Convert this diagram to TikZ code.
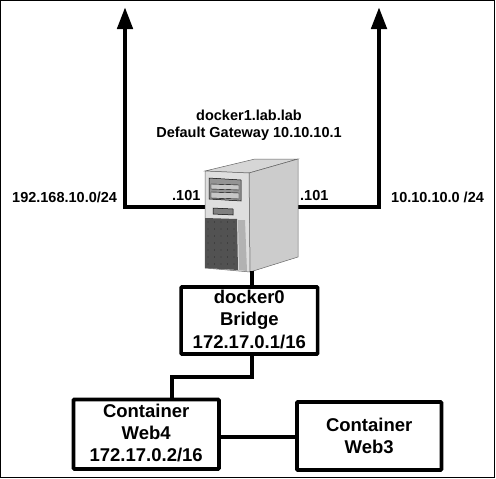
\documentclass[tikz,border=0pt]{standalone}
\usepackage{fontspec}
\setmainfont{Liberation Sans}
\usetikzlibrary{arrows.meta}
\tikzset{
  netbox/.style={draw=black,fill=white,line width=3.6pt,rounded corners=0.8pt,align=center,font=\fontsize{18.5}{22.3}\selectfont\bfseries,inner sep=0pt},
  raised/.style={text depth=3pt},
  lbl/.style={font=\fontsize{14.5}{17}\selectfont\bfseries,align=center,inner sep=0pt},
  wire/.style={draw=black,line width=3.6pt},
  uplink/.style={draw=black,line width=4.6pt,-{Triangle[length=22pt,width=15pt]}},
  skin/.style={draw=black!60,line width=.5pt},
}
\begin{document}
\begin{tikzpicture}[x=1pt,y=-1pt]
\useasboundingbox (0,0) rectangle (496,479);
\fill[white] (0,0) rectangle (496,479);
\draw[line width=1.4pt] (0.7,478) -- (0.7,0.7) -- (494.3,0.7) -- (494.3,477.7) -- (0,477.7);
% server
\node[minimum width=93pt,minimum height=113pt,inner sep=0pt] (server) at (251.5,215.5) {};
\coordinate (upL) at (125,7);
\coordinate (upR) at (379,7);
\draw[uplink] (server.west |- 0,207) -| (upL);
\draw[uplink] (server.east |- 0,207) -| (upR);
\filldraw[skin,fill=black!16] (205,171) -- (255,159) -- (298,159) -- (249,173) -- cycle;
\filldraw[skin,fill=black!20] (249,173) -- (298,159) -- (298,257) -- (250,272) -- cycle;
\filldraw[skin,fill=black!13] (205,171) -- (249,173) -- (250,272) -- (205,268) -- cycle;
\fill[black!68] (205,218) -- (237,219) -- (238,270) -- (205,268) -- cycle;
\foreach \i in {0,...,4} \foreach \j in {0,...,6}
  \fill[black] ({208+\i*6.5},{222+\j*7}) circle (.45pt);
\fill[black!30] (238,220) -- (245,220) -- (247,271) -- (239,270) -- cycle;
\filldraw[draw=black,line width=.5pt,fill=black!42] (209,178) -- (241,180) -- (241,201) -- (209,199) -- cycle;
\filldraw[draw=black,line width=.4pt,fill=black!22] (211,184) -- (239,185) -- (239,190) -- (211,189) -- cycle;
\filldraw[draw=black,line width=.4pt,fill=black!22] (211,192) -- (239,193) -- (239,199) -- (211,198) -- cycle;
\filldraw[draw=black,line width=.5pt,fill=black!50] (213,208) -- (233,209) -- (233,215) -- (213,214) -- cycle;
% boxes
\node[netbox,raised,minimum width=136.5pt,minimum height=67pt] (bridge) at (249.3,320.5) {docker0\\Bridge\\172.17.0.1/16};
\node[netbox,raised,minimum width=145.5pt,minimum height=69.5pt] (web4) at (146.2,434.2) {Container\\Web4\\172.17.0.2/16};
\node[netbox,minimum width=144.5pt,minimum height=68pt] (web3) at (369.2,436) {Container\\Web3};
\coordinate (junc) at (172,377);
\coordinate (bridgeout) at (252,377);
% connectors
\draw[wire] (server.south -| bridgeout) ++(0,-1) -- (bridgeout |- bridge.north);
\draw[wire] (bridgeout |- bridge.south) -- (bridgeout) -- (junc) -- (junc |- web4.north);
\draw[wire] (web4.east |- 0,437) -- (web3.west |- 0,437);
% labels
\node[lbl] (title) at (249,125) {docker1.lab.lab\\Default Gateway 10.10.10.1};
\node[lbl,anchor=base west] (netL) at (12,202) {192.168.10.0/24};
\node[lbl,anchor=base west] (ipL) at (172,200) {.101};
\node[lbl,anchor=base west] (ipR) at (300,200) {.101};
\node[lbl,anchor=base west] (netR) at (391,202) {10.10.10.0 /24};
\end{tikzpicture}
\end{document}
